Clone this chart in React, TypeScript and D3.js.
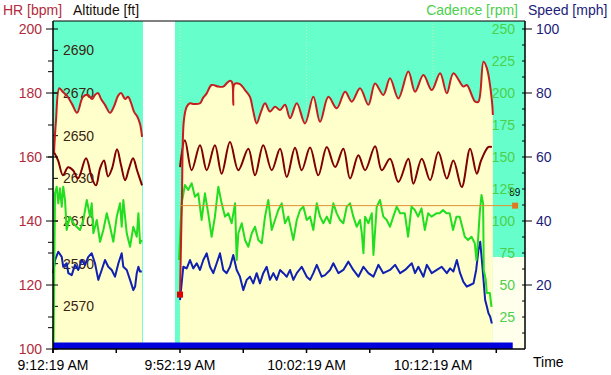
import React from "react";
import * as d3 from "d3";

type Pt = [number, number];

// ---------- DATA ----------
// time = minutes since 9:12:19 AM; recording 1 ends at 7.11, recording 2 starts at 39.6
const startTime = new Date(2009, 0, 1, 9, 12, 19);
const segmentBounds = [0, 7.11, 39.6, 67.27];
const majorTimeTicks = [0, 40, 50, 60];
const minorTimeTicks = [5, 45, 55, 65];

const hrTicks = [100, 120, 140, 160, 180, 200];
const hrMinorTicks = [110, 130, 150, 170, 190];
const altTicks = [2570, 2590, 2610, 2630, 2650, 2670, 2690];
const altMinorTicks = [2560, 2600, 2640, 2680];
const cadTicks = [25, 50, 75, 100, 125, 150, 175, 200, 225, 250];
const speedTicks = [20, 40, 60, 80, 100];
const speedMinorTicks = [5, 10, 15, 25, 30, 35, 45, 50, 55, 65, 70, 75, 85, 90, 95];

const hrDomain = [100, 202.5];
const altDomain = [2550, 2703.75];
const cadDomain = [0, 256.25];
const speedDomain = [0, 102.5];

const hrPart1: Pt[] = [
  [0.08, 161.3], [0.24, 171.6], [0.5, 181.5], [0.79, 180.3], [1.11, 179.1], [1.5, 176.6],
  [1.9, 173.8], [2.37, 178.8], [2.77, 179.4], [3.08, 178.1], [3.32, 179.4], [3.56, 180.0],
  [3.8, 178.1], [4.11, 176.3], [4.51, 173.8], [4.83, 175.9], [5.14, 179.1], [5.38, 180.0],
  [5.7, 178.1], [5.93, 178.8], [6.17, 176.9], [6.41, 174.1], [6.64, 172.8], [6.88, 170.3],
  [7.04, 166.3],
];
const hrPart2: Pt[] = [
  [40.0, 117.0], [40.15, 146.6], [40.31, 171.6], [40.53, 175.7], [40.79, 176.8], [41.02, 176.6],
  [41.58, 176.8], [41.81, 178.4], [42.11, 179.9], [42.5, 182.5], [43.03, 182.0], [43.42, 182.0],
  [43.71, 183.1], [43.95, 183.8], [44.11, 183.4], [44.21, 176.3], [44.31, 182.8], [44.74, 182.8],
  [45.14, 180.9], [45.53, 178.8], [45.77, 174.7], [46.06, 170.5], [46.4, 174.1], [46.72, 176.8],
  [47.11, 174.2], [47.51, 175.7], [47.91, 174.7], [48.3, 176.3], [48.7, 172.1], [49.23, 176.8],
  [49.88, 170.5], [50.54, 178.8], [51.07, 171.0], [51.73, 178.8], [52.39, 175.2], [53.05, 180.4],
  [53.58, 177.3], [54.23, 181.5], [54.89, 176.3], [55.42, 183.0], [56.07, 179.4], [56.6, 184.6],
  [57.26, 178.3], [58.05, 186.7], [58.58, 180.4], [59.24, 185.6], [59.9, 180.9], [60.56, 186.2],
  [61.09, 179.9], [61.61, 186.2], [62.4, 182.0], [62.67, 182.5], [63.33, 177.3], [63.59, 177.3],
  [63.99, 189.8], [64.26, 187.7], [64.65, 177.8], [64.73, 173.1],
];
const hrTailLevel = 128.75;

const altPart1: Pt[] = [
  [0.08, 2642.2], [0.4, 2638.4], [0.79, 2631.4], [1.19, 2635.2], [1.58, 2633.8], [1.98, 2630.0],
  [2.61, 2639.4], [3.08, 2630.0], [3.4, 2626.7], [3.72, 2634.7], [4.03, 2638.4], [4.35, 2630.9],
  [4.67, 2634.7], [5.06, 2643.6], [5.38, 2636.1], [5.7, 2629.1], [6.01, 2634.7], [6.33, 2639.4],
  [6.64, 2633.8], [7.04, 2626.7],
];
const altPart2: Pt[] = [
  [40.0, 2635.3], [40.39, 2647.8], [40.92, 2633.8], [41.58, 2645.5], [42.11, 2633.8], [42.76, 2645.5],
  [43.29, 2632.2], [43.95, 2647.0], [44.61, 2633.8], [45.4, 2643.9], [45.93, 2631.4], [46.58, 2645.5],
  [47.25, 2633.8], [47.91, 2643.9], [48.44, 2630.6], [49.09, 2644.3], [49.62, 2633.8], [50.28, 2644.4],
  [50.93, 2631.4], [51.6, 2644.7], [52.26, 2635.3], [52.91, 2643.9], [53.44, 2629.9], [54.1, 2640.8],
  [54.63, 2633.8], [55.42, 2645.0], [55.95, 2633.8], [56.6, 2639.2], [57.26, 2628.3], [58.05, 2639.2],
  [58.45, 2627.5], [59.11, 2639.2], [59.77, 2629.1], [60.42, 2642.3], [61.09, 2629.9], [61.61, 2638.4],
  [62.27, 2625.9], [62.93, 2643.9], [63.46, 2632.2], [63.8, 2638.4], [64.38, 2644.7], [64.65, 2644.7],
];

const cadPart1: Pt[] = [
  [0.04, 0], [0.16, 121.6], [0.29, 126.8], [0.42, 113.8], [0.55, 125.5], [0.69, 111.2], [0.81, 126.8],
  [0.95, 116.4], [1.08, 93.0], [1.34, 103.4], [1.61, 98.2], [1.87, 95.5], [2.14, 93.0], [2.4, 100.8],
  [2.67, 116.4], [2.93, 103.4], [3.06, 113.8], [3.19, 90.4], [3.46, 100.8], [3.72, 83.8], [3.98, 93.0],
  [4.25, 106.0], [4.51, 95.5], [4.77, 83.8], [5.04, 103.4], [5.3, 113.8], [5.43, 95.5], [5.56, 116.4],
  [5.83, 90.4], [6.09, 79.9], [6.35, 95.5], [6.62, 87.7], [6.75, 106.0], [6.88, 82.6], [7.02, 85.2],
];
const cadPart2: Pt[] = [
  [39.92, 69.5], [40.13, 113.8], [40.39, 128.1], [40.65, 124.2], [40.92, 129.5], [41.18, 119.0],
  [41.44, 121.6], [41.71, 100.8], [41.97, 121.6], [42.23, 106.0], [42.5, 87.7], [42.76, 103.4],
  [43.03, 126.8], [43.29, 113.8], [43.56, 103.4], [43.82, 106.0], [44.08, 98.2], [44.35, 113.8],
  [44.48, 69.5], [44.61, 90.4], [44.88, 98.2], [45.14, 85.2], [45.4, 79.9], [45.67, 90.4],
  [45.93, 95.5], [46.19, 85.2], [46.46, 82.6], [46.72, 103.4], [46.98, 116.4], [47.25, 93.0],
  [47.51, 100.8], [47.77, 108.6], [48.04, 113.8], [48.3, 98.2], [48.56, 103.4], [48.96, 85.2],
  [49.23, 100.8], [49.49, 108.6], [49.75, 111.2], [50.02, 100.8], [50.28, 103.4], [50.54, 93.0],
  [50.81, 113.8], [51.07, 103.4], [51.33, 98.2], [51.6, 103.4], [51.86, 98.2], [52.12, 113.8],
  [52.39, 106.0], [52.65, 100.8], [52.91, 98.2], [53.18, 111.2], [53.44, 113.8], [53.7, 103.4],
  [53.97, 95.5], [54.23, 100.8], [54.37, 90.4], [54.5, 74.8], [54.63, 103.4], [54.89, 98.2],
  [55.16, 106.0], [55.29, 73.4], [55.55, 111.2], [55.81, 116.4], [56.07, 103.4], [56.34, 100.8],
  [56.6, 95.5], [56.86, 103.4], [57.13, 111.2], [57.4, 106.0], [57.77, 106.0], [58.03, 87.7],
  [58.3, 111.2], [58.56, 108.6], [58.82, 103.4], [59.09, 109.9], [59.35, 93.0], [59.61, 106.0],
  [59.88, 103.4], [60.27, 106.0], [60.53, 106.0], [60.79, 108.6], [61.06, 106.0], [61.32, 106.0],
  [61.58, 93.0], [61.85, 103.4], [62.11, 103.4], [62.51, 87.7], [62.77, 85.2], [63.04, 87.7],
  [63.3, 82.6], [63.43, 69.5], [63.56, 85.2], [63.69, 106.0], [63.83, 120.3], [63.96, 113.8],
  [64.01, 61.7], [64.17, 53.9], [64.25, 43.8], [64.49, 43.8], [64.62, 33.0],
];

const speedPart1: Pt[] = [
  [0.02, 23.7], [0.16, 27.8], [0.42, 30.4], [0.69, 28.8], [0.81, 25.7], [1.08, 26.8], [1.21, 23.7],
  [1.48, 23.1], [1.74, 26.3], [2.0, 24.7], [2.27, 27.8], [2.53, 26.3], [2.79, 28.8], [3.06, 29.9],
  [3.32, 26.8], [3.58, 21.6], [3.85, 24.7], [4.11, 27.8], [4.37, 25.7], [4.64, 24.7], [4.9, 22.6],
  [5.17, 26.8], [5.43, 29.9], [5.56, 25.7], [5.83, 24.7], [6.09, 21.6], [6.35, 18.4], [6.49, 19.5],
  [6.62, 23.7], [6.75, 25.7], [6.88, 24.2], [7.02, 24.2],
];
const speedPart2: Pt[] = [
  [40.0, 15.3], [40.26, 25.7], [40.53, 25.2], [40.79, 27.8], [41.05, 25.2], [41.32, 26.8],
  [41.58, 24.7], [41.84, 27.8], [42.11, 29.9], [42.37, 25.7], [42.63, 23.7], [42.9, 26.8],
  [43.16, 29.9], [43.42, 24.7], [43.69, 23.7], [43.95, 25.7], [44.21, 29.4], [44.48, 24.7],
  [44.74, 22.6], [45.0, 18.4], [45.27, 21.6], [45.53, 22.6], [45.79, 20.5], [46.06, 23.7],
  [46.32, 20.5], [46.58, 23.7], [46.85, 25.7], [47.11, 21.6], [47.38, 23.7], [47.64, 21.6],
  [47.91, 24.7], [48.17, 23.7], [48.44, 22.6], [48.7, 24.7], [48.96, 21.6], [49.23, 23.7],
  [49.62, 25.7], [50.02, 22.6], [50.28, 21.6], [50.54, 23.7], [50.81, 26.3], [51.2, 22.6],
  [51.46, 23.1], [51.86, 24.7], [52.12, 26.8], [52.52, 23.7], [52.91, 24.7], [53.31, 27.3],
  [53.7, 24.7], [54.1, 22.6], [54.5, 25.7], [54.89, 23.7], [55.29, 22.6], [55.68, 26.3],
  [56.07, 23.7], [56.6, 24.7], [57.0, 26.3], [57.4, 23.7], [57.79, 24.7], [58.32, 26.8],
  [58.58, 23.7], [58.84, 25.7], [59.24, 22.6], [59.51, 26.3], [59.9, 23.7], [60.3, 24.7],
  [60.69, 25.7], [61.09, 23.7], [61.35, 25.2], [61.61, 24.2], [61.88, 27.8], [62.14, 23.7],
  [62.4, 21.0], [62.67, 19.5], [62.93, 20.0], [63.2, 20.5], [63.41, 24.7], [63.59, 30.9],
  [63.73, 33.5], [63.86, 27.8], [63.99, 21.6], [64.12, 15.3], [64.26, 13.2], [64.38, 11.2],
  [64.52, 10.1], [64.65, 8.0],
];

const refStart = 40;
const refEnd = 66.49;
const refValue = 144.8; // HR scale
const refLabel = "89";
const trackBarEnd = 66.3;

// ---------- LAYOUT ----------
const W = 611;
const H = 375;
const L = 53;
const R = 525;
const T = 21;
const B = 349;
const GAP_PX = 32;
const FONT = "'Liberation Sans', Arial, Helvetica, sans-serif";

const C_HR = "#B22A3C";
const C_ALT = "#3a2410";
const C_CAD = "#4ccf4c";
const C_SPD = "#1c1c78";

export default function App() {
  const [s0, s1, s2, s3] = segmentBounds;
  const pxPerMin = (R - L - GAP_PX) / (s1 - s0 + (s3 - s2));
  const x1 = L + (s1 - s0) * pxPerMin;
  const x = d3.scaleLinear().domain([s0, s1, s2, s3]).range([L, x1, x1 + GAP_PX, R]);
  const yHR = d3.scaleLinear().domain(hrDomain).range([B, T]);
  const yAlt = d3.scaleLinear().domain(altDomain).range([B, T]);
  const yCad = d3.scaleLinear().domain(cadDomain).range([B, T]);
  const ySpd = d3.scaleLinear().domain(speedDomain).range([B, T]);

  const smooth = d3.curveCatmullRom.alpha(0.5);
  const mkLine = (y: d3.ScaleLinear<number, number>, curve: d3.CurveFactory = d3.curveLinear) =>
    d3.line<Pt>().x((d) => x(d[0])).y((d) => y(d[1])).curve(curve);
  const hrArea = d3
    .area<Pt>()
    .x((d) => x(d[0]))
    .y0(B)
    .y1((d) => yHR(d[1]))
    .curve(smooth);
  const tail: Pt[] = [
    [hrPart2[hrPart2.length - 1][0], hrTailLevel],
    [s3, hrTailLevel],
  ];
  const fmt = d3.timeFormat("%-I:%M:%S %p");
  const timeLabel = (m: number) => fmt(new Date(startTime.getTime() + m * 60000));

  const lineHR = mkLine(yHR, smooth);
  const lineAlt = mkLine(yAlt, smooth);
  const lineCad = mkLine(yCad);
  const lineSpd = mkLine(ySpd);

  return (
    <svg
      width={W}
      height={H}
      style={{ position: "absolute", left: 0, top: 0, background: "#fff" }}
      fontFamily={FONT}
      fontSize={14}
    >
      <rect x={0} y={0} width={W} height={H} fill="#fff" />
      {/* plot background */}
      <rect x={L} y={T} width={R - L} height={B - T} fill="#66FFCC" />
      {/* grid lines */}
      {majorTimeTicks.slice(1).map((t) => (
        <line key={"g" + t} x1={x(t)} x2={x(t)} y1={T} y2={B} stroke="#c8ecc0" strokeDasharray="1,2" />
      ))}
      {/* HR filled areas */}
      <path d={hrArea(hrPart1) || ""} fill="#FFFFCC" />
      <path d={hrArea(hrPart2) || ""} fill="#FFFFCC" />
      <path d={hrArea(tail) || ""} fill="#FFFFEC" />
      {/* recording gap */}
      <rect x={x(s1)} y={T} width={x(s2) - x(s1)} height={B - T} fill="#fff" />

      {/* altitude ticks & labels (inside) */}
      {altTicks.map((v) => (
        <g key={"a" + v}>
          <line x1={L} x2={L + 5} y1={yAlt(v)} y2={yAlt(v)} stroke="#000" />
          <text x={L + 10} y={yAlt(v) + 5} fill={C_ALT}>
            {v}
          </text>
        </g>
      ))}
      {altMinorTicks.map((v) => (
        <line key={"am" + v} x1={L - 5} x2={L} y1={yAlt(v)} y2={yAlt(v)} stroke="#000" />
      ))}

      {/* series lines */}
      <g fill="none" strokeWidth={2} strokeLinejoin="round">
        <path d={lineSpd(speedPart1) || ""} stroke="#1020b0" />
        <path d={lineSpd(speedPart2) || ""} stroke="#1020b0" />
        <path d={lineCad(cadPart1) || ""} stroke="#22dd22" />
        <path d={lineCad(cadPart2) || ""} stroke="#22dd22" />
        <path d={lineAlt(altPart1) || ""} stroke="#800000" />
        <path d={lineAlt(altPart2) || ""} stroke="#800000" />
        <path d={lineHR(hrPart1) || ""} stroke="#c41e1e" />
        <path d={lineHR(hrPart2) || ""} stroke="#c41e1e" />
      </g>

      {/* reference line */}
      <line x1={x(refStart)} x2={x(refEnd)} y1={yHR(refValue)} y2={yHR(refValue)} stroke="#e09030" strokeWidth={1} />
      <rect x={x(refEnd) - 3} y={yHR(refValue) - 3} width={6} height={6} fill="#e07820" />
      <text x={x(refEnd) - 6} y={yHR(refValue) - 10} fontSize={10} fill="#000">
        {refLabel}
      </text>
      {/* start marker */}
      <rect x={x(hrPart2[0][0]) - 3} y={yHR(hrPart2[0][1]) - 3} width={6} height={6} fill="#e00000" />

      {/* track bar */}
      <rect x={x(s0)} y={B - 6.5} width={x(trackBarEnd) - x(s0)} height={6.5} fill="#0000dd" />

      {/* cadence labels */}
      {cadTicks.map((v) => (
        <text key={"c" + v} x={R - 10} y={yCad(v) + 5} textAnchor="end" fill={C_CAD}>
          {v}
        </text>
      ))}

      {/* frame */}
      <line x1={L} x2={R} y1={T} y2={T} stroke="#000" />
      <line x1={L} x2={L} y1={T} y2={B + 4} stroke="#000" strokeWidth={1.5} />
      <line x1={R} x2={R} y1={T} y2={B} stroke="#000" strokeWidth={1.5} />
      <line x1={L} x2={R} y1={B} y2={B} stroke="#000" strokeWidth={1.5} />

      {/* HR axis */}
      {hrTicks.map((v) => (
        <g key={"h" + v}>
          <line x1={L - 7} x2={L + 5} y1={yHR(v)} y2={yHR(v)} stroke="#000" />
          <text x={L - 11} y={yHR(v) + 5} textAnchor="end" fill={C_HR}>
            {v}
          </text>
        </g>
      ))}
      {hrMinorTicks.map((v) => (
        <line key={"hm" + v} x1={L - 5} x2={L} y1={yHR(v)} y2={yHR(v)} stroke="#000" />
      ))}

      {/* speed axis */}
      {speedTicks.map((v) => (
        <g key={"s" + v}>
          <line x1={R - 3} x2={R + 7} y1={ySpd(v)} y2={ySpd(v)} stroke="#000" />
          <text x={R + 11} y={ySpd(v) + 5} fill={C_SPD}>
            {v}
          </text>
        </g>
      ))}
      {speedMinorTicks.map((v) => (
        <line key={"sm" + v} x1={R - 3} x2={R} y1={ySpd(v)} y2={ySpd(v)} stroke="#000" />
      ))}

      {/* time axis */}
      {[...majorTimeTicks, ...minorTimeTicks].map((t) => (
        <line key={"t" + t} x1={x(t)} x2={x(t)} y1={B} y2={B + 4} stroke="#000" strokeWidth={1.5} />
      ))}
      {majorTimeTicks.map((t) => (
        <text key={"tl" + t} x={x(t)} y={370} textAnchor="middle" fill="#000">
          {timeLabel(t)}
        </text>
      ))}
      <text x={533} y={367} fill="#000">
        Time
      </text>

      {/* headers */}
      <text x={3} y={15} fill={C_HR}>
        HR [bpm]
      </text>
      <text x={73} y={15} fill="#201008">
        Altitude [ft]
      </text>
      <text x={518} y={15} textAnchor="end" fill={C_CAD}>
        Cadence [rpm]
      </text>
      <text x={528} y={15} fill={C_SPD}>
        Speed [mph]
      </text>
    </svg>
  );
}
